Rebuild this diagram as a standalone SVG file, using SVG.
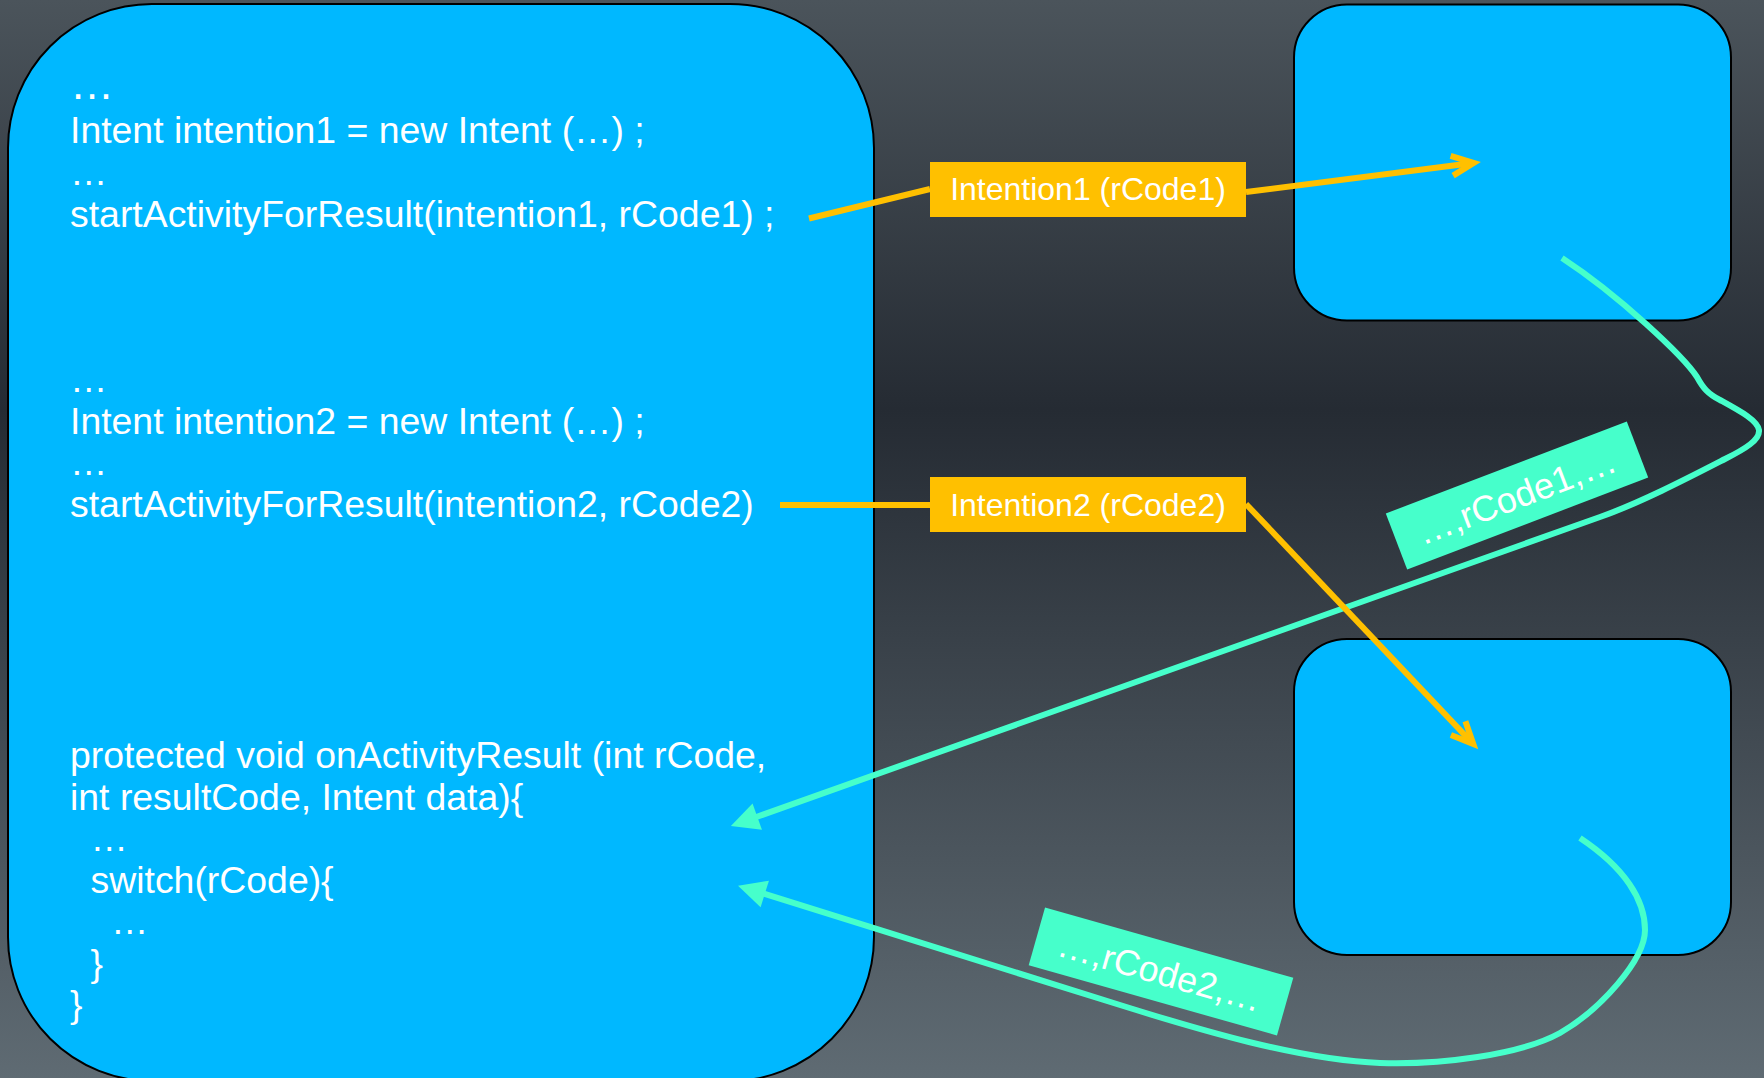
<svg xmlns="http://www.w3.org/2000/svg" width="1764" height="1078" viewBox="0 0 1764 1078">
  <defs>
    <linearGradient id="bg" x1="0" y1="0" x2="0" y2="1">
      <stop offset="0" stop-color="#4b545b"/>
      <stop offset="0.38" stop-color="#252b33"/>
      <stop offset="1" stop-color="#5f6b73"/>
    </linearGradient>
    <marker id="openArrow" markerUnits="userSpaceOnUse" viewBox="-30 -15 45 30" refX="0" refY="0" markerWidth="45" markerHeight="30" orient="auto">
      <path d="M-21.3,-10 L0.7,0 L-21.3,10" fill="none" stroke="#FFC000" stroke-width="6" stroke-linejoin="miter" stroke-miterlimit="10"/>
    </marker>
    <marker id="tealArrow" markerUnits="userSpaceOnUse" viewBox="-5 -16 35 32" refX="0" refY="0" markerWidth="35" markerHeight="32" orient="auto">
      <path d="M-1,-14 L27,0 L-1,14 z" fill="#46FFCB"/>
    </marker>
    <style>
      .box { fill: #00B8FF; stroke: #000000; stroke-width: 2; }
      .code { font-family: "Liberation Sans", Arial, sans-serif; font-size: 37.4px; fill: #ffffff; }
      .big { font-size: 44px; }
      .orange { fill: none; stroke: #FFC000; stroke-width: 6; }
      .teal { fill: none; stroke: #46FFCB; stroke-width: 6; }
      .olabel { fill: #FFC000; }
      .tlabel { fill: #46FFCB; }
      .ltext { font-family: "Liberation Sans", Arial, sans-serif; font-size: 32px; fill: #ffffff; text-anchor: middle; }
      .ttext { font-family: "Liberation Sans", Arial, sans-serif; font-size: 36px; fill: #ffffff; text-anchor: middle; }
    </style>
  </defs>

  <rect x="0" y="0" width="1764" height="1078" fill="url(#bg)"/>

  <g id="activity-main">
    <rect class="box" x="8" y="4" width="866" height="1077" rx="144" ry="144"/>
    <text class="code big" x="70" y="99">…</text>
    <text class="code" x="70" y="143">Intent intention1 = new Intent (…) ;</text>
    <text class="code" x="70" y="184.5">…</text>
    <text class="code" x="70" y="226.5">startActivityForResult(intention1, rCode1) ;</text>
    <text class="code" x="70" y="392">…</text>
    <text class="code" x="70" y="434">Intent intention2 = new Intent (…) ;</text>
    <text class="code" x="70" y="475">…</text>
    <text class="code" x="70" y="517">startActivityForResult(intention2, rCode2)</text>
    <text class="code" x="70" y="768">protected void onActivityResult (int rCode,</text>
    <text class="code" x="70" y="809.5">int resultCode, Intent data){</text>
    <text class="code" x="90.5" y="851">…</text>
    <text class="code" x="90.5" y="892.5">switch(rCode){</text>
    <text class="code" x="111" y="934">…</text>
    <text class="code" x="90.5" y="975.5">}</text>
    <text class="code" x="70" y="1017">}</text>
  </g>

  <g id="activity-1">
    <rect class="box" x="1294" y="4.5" width="437" height="316" rx="53" ry="53"/>
  </g>

  <g id="activity-2">
    <rect class="box" x="1294" y="639" width="437" height="316" rx="53" ry="53"/>
  </g>

  <g id="connectors">
    <path class="teal" d="M1562,258 C1620,296 1684,357 1697,377 C1703,388 1708,394 1720,400 C1740,411 1757,420 1759,430 C1760,440 1745,449 1725,459 C1690,477 1640,503 1600,517 L756.3,817" marker-end="url(#tealArrow)"/>
    <path class="teal" d="M1580,838 C1625,868 1645,900 1645,930 C1645,960 1600,1010 1560,1033 C1520,1055 1440,1065 1380,1063 C1300,1060 1200,1030 1120,1005 L763.8,893.7" marker-end="url(#tealArrow)"/>
    <path class="orange" d="M809,218.5 L930,189"/>
    <path class="orange" d="M1246,192 L1473,163" marker-end="url(#openArrow)"/>
    <path class="orange" d="M780,505 L930,505"/>
    <path class="orange" d="M1246,504 L1472.8,743.5" marker-end="url(#openArrow)"/>
  </g>

  <g id="label-intention1">
    <rect class="olabel" x="930" y="162" width="316" height="55"/>
    <text class="ltext" x="1088" y="200">Intention1 (rCode1)</text>
  </g>

  <g id="label-intention2">
    <rect class="olabel" x="930" y="477" width="316" height="55"/>
    <text class="ltext" x="1088" y="516">Intention2 (rCode2)</text>
  </g>

  <g id="label-result1" transform="translate(1517,495.5) rotate(-20.9)">
    <rect class="tlabel" x="-129" y="-30" width="258" height="60"/>
    <text class="ttext" x="-1" y="13">…,rCode1,…</text>
  </g>

  <g id="label-result2" transform="translate(1161,971.5) rotate(15.8)">
    <rect class="tlabel" x="-129" y="-30" width="258" height="60"/>
    <text class="ttext" x="-1" y="13">…,rCode2,…</text>
  </g>
</svg>
